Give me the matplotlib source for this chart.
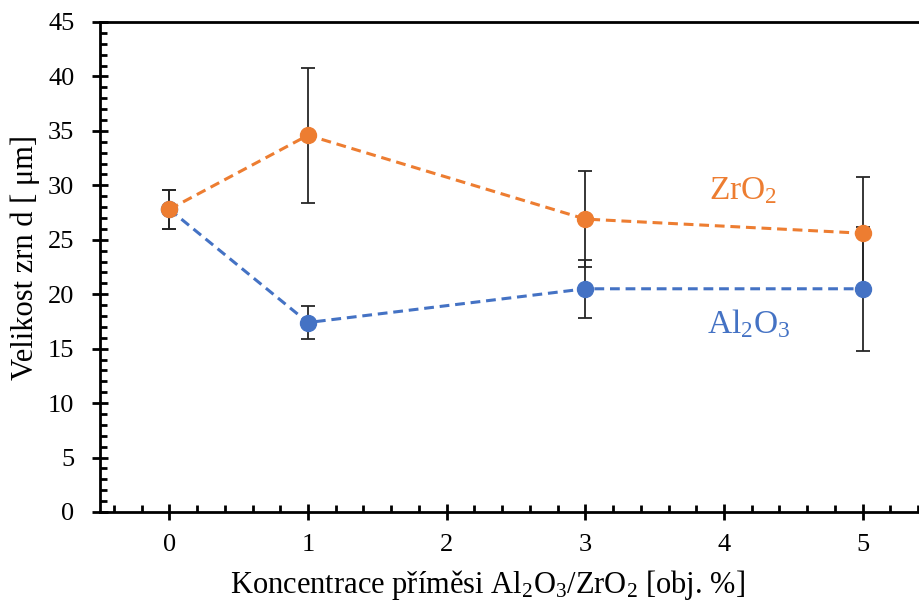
import matplotlib
matplotlib.use("Agg")
import matplotlib.pyplot as plt
from matplotlib.ticker import MultipleLocator

plt.rcParams['font.family'] = ['Liberation Serif', 'DejaVu Serif']
plt.rcParams['mathtext.fontset'] = 'custom'
plt.rcParams['mathtext.rm'] = 'Liberation Serif'
plt.rcParams['mathtext.it'] = 'Liberation Serif:italic'

x = [0, 1, 3, 5]
zro2 = [27.8, 34.6, 26.9, 25.6]
zro2_err = [1.8, 6.2, 4.4, 5.2]
al2o3 = [27.8, 17.4, 20.5, 20.5]
al2o3_err = [1.8, 1.5, 2.65, 5.7]

orange = '#ED7D31'
blue = '#4472C4'

fig = plt.figure(figsize=(9.2, 6.01), dpi=100)
ax = fig.add_axes([100/920, 89/601, 832/920, 490/601])

for y, e, c, z in [(zro2, zro2_err, orange, 3), (al2o3, al2o3_err, blue, 2)]:
    ax.errorbar(x, y, yerr=e, fmt='none', ecolor='#262626', elinewidth=1.3,
                capsize=5, capthick=1.3, zorder=1)
    ax.plot(x, y, linestyle=(0, (3.2, 1.9)), color=c, linewidth=2.2,
            marker='o', markersize=11.5, zorder=z)

ax.set_xlim(-0.5, 5.5)
ax.set_ylim(0, 45)
ax.xaxis.set_major_locator(MultipleLocator(1))
ax.xaxis.set_minor_locator(MultipleLocator(0.2))
ax.yaxis.set_major_locator(MultipleLocator(5))
ax.yaxis.set_minor_locator(MultipleLocator(1))
ax.tick_params(which='major', direction='inout', length=11, width=2, labelsize=19)
ax.tick_params(axis='y', which='major', pad=13)
ax.tick_params(axis='x', which='major', pad=10)
ax.tick_params(which='minor', direction='in', length=5, width=2)
for s in ax.spines.values():
    s.set_linewidth(2)
ax.spines['right'].set_visible(False)

ax.text(4.14, 29.5, 'ZrO$_2$', color=orange, fontsize=24, ha='center', va='center')
ax.text(4.18, 17.3, 'Al$_2$O$_3$', color=blue, fontsize=24, ha='center', va='center')

fig.text(487/920, 16/601, 'Koncentrace příměsi Al$_2$O$_3$/ZrO$_2$ [obj. %]',
         fontsize=22, ha='center', va='center')
fig.text(25/920, 343/601, 'Velikost zrn d [ μm]', fontsize=22, rotation=90,
         ha='center', va='center')

fig.savefig('out.png', dpi=100)
